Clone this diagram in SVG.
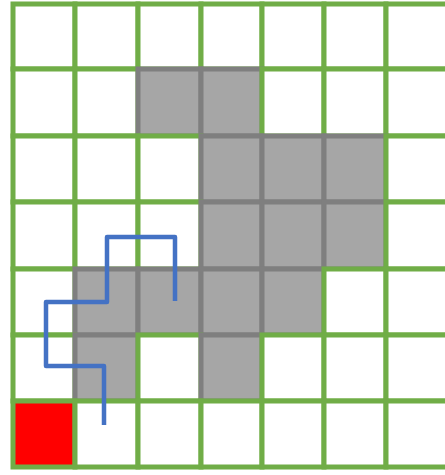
<svg xmlns="http://www.w3.org/2000/svg" width="445" height="475" viewBox="0 0 445 475">
<style>
.w{fill:#FFFFFF;stroke:#70AD47;stroke-width:5}
.g{fill:#A6A6A6;stroke:#7F7F7F;stroke-width:5}
.r{fill:#FF0000;stroke:#70AD47;stroke-width:5}
.path{fill:none;stroke:#4472C4;stroke-width:4.5;stroke-linejoin:round}
</style>
<rect x="0" y="0" width="445" height="475" fill="#FFFFFF"/>
<g id="grid">
<g id="row0">
<rect class="w" x="13" y="4" width="62" height="65"/>
<rect class="w" x="75" y="4" width="63" height="65"/>
<rect class="w" x="138" y="4" width="63" height="65"/>
<rect class="w" x="201" y="4" width="61" height="65"/>
<rect class="w" x="262" y="4" width="62" height="65"/>
<rect class="w" x="324" y="4" width="62" height="65"/>
<rect class="w" x="386" y="4" width="62" height="65"/>
</g>
<g id="row1">
<rect class="w" x="13" y="69" width="62" height="67"/>
<rect class="w" x="75" y="69" width="63" height="67"/>
<rect class="g" x="138" y="69" width="63" height="67"/>
<rect class="g" x="201" y="69" width="61" height="67"/>
<rect class="w" x="262" y="69" width="62" height="67"/>
<rect class="w" x="324" y="69" width="62" height="67"/>
<rect class="w" x="386" y="69" width="62" height="67"/>
</g>
<g id="row2">
<rect class="w" x="13" y="136" width="62" height="66"/>
<rect class="w" x="75" y="136" width="63" height="66"/>
<rect class="w" x="138" y="136" width="63" height="66"/>
<rect class="g" x="201" y="136" width="61" height="66"/>
<rect class="g" x="262" y="136" width="62" height="66"/>
<rect class="g" x="324" y="136" width="62" height="66"/>
<rect class="w" x="386" y="136" width="62" height="66"/>
</g>
<g id="row3">
<rect class="w" x="13" y="202" width="62" height="67"/>
<rect class="w" x="75" y="202" width="63" height="67"/>
<rect class="w" x="138" y="202" width="63" height="67"/>
<rect class="g" x="201" y="202" width="61" height="67"/>
<rect class="g" x="262" y="202" width="62" height="67"/>
<rect class="g" x="324" y="202" width="62" height="67"/>
<rect class="w" x="386" y="202" width="62" height="67"/>
</g>
<g id="row4">
<rect class="w" x="13" y="269" width="62" height="66"/>
<rect class="g" x="75" y="269" width="63" height="66"/>
<rect class="g" x="138" y="269" width="63" height="66"/>
<rect class="g" x="201" y="269" width="61" height="66"/>
<rect class="g" x="262" y="269" width="62" height="66"/>
<rect class="w" x="324" y="269" width="62" height="66"/>
<rect class="w" x="386" y="269" width="62" height="66"/>
</g>
<g id="row5">
<rect class="w" x="13" y="335" width="62" height="66"/>
<rect class="g" x="75" y="335" width="63" height="66"/>
<rect class="w" x="138" y="335" width="63" height="66"/>
<rect class="g" x="201" y="335" width="61" height="66"/>
<rect class="w" x="262" y="335" width="62" height="66"/>
<rect class="w" x="324" y="335" width="62" height="66"/>
<rect class="w" x="386" y="335" width="62" height="66"/>
</g>
<g id="row6">
<rect class="r" x="13" y="401" width="62" height="66"/>
<rect class="w" x="75" y="401" width="63" height="66"/>
<rect class="w" x="138" y="401" width="63" height="66"/>
<rect class="w" x="201" y="401" width="61" height="66"/>
<rect class="w" x="262" y="401" width="62" height="66"/>
<rect class="w" x="324" y="401" width="62" height="66"/>
<rect class="w" x="386" y="401" width="62" height="66"/>
</g>
</g>
<g id="connectors">
<path class="path" d="M104,425 V366 H46 V302 H107 V237 H175 V301"/>
</g>
</svg>
